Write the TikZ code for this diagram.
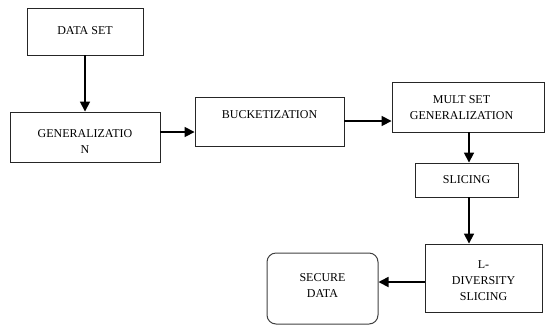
\documentclass[tikz,border=0pt]{standalone}
\usepackage{fontspec}
\setmainfont{Liberation Serif}
\usetikzlibrary{arrows.meta}
\begin{document}
\begin{tikzpicture}[x=1pt,y=-1pt,
  boxed/.style={draw=black!85, line width=0.9pt, inner sep=0pt},
  txt/.style={font=\fontsize{12}{16}\selectfont, align=center, inner sep=0pt, text=black},
  arr/.style={line width=1.7pt, -{Triangle[length=10pt,width=10pt]}}]
\useasboundingbox (0,0) rectangle (545,325);
% boxes
\node[boxed, minimum width=116pt, minimum height=47pt] (ds) at (85,31.5) {};
\node[boxed, minimum width=150pt, minimum height=50pt] (gen) at (85,137) {};
\node[boxed, minimum width=149pt, minimum height=49pt] (buck) at (269.5,121.5) {};
\node[boxed, minimum width=152pt, minimum height=50pt] (mult) at (468,107) {};
\node[boxed, minimum width=103pt, minimum height=34pt] (slice) at (466.5,180) {};
\node[boxed, minimum width=117pt, minimum height=68pt] (ldiv) at (483.5,278) {};
\node[draw=black!75, line width=1pt, rounded corners=9pt, inner sep=0pt,
      minimum width=111pt, minimum height=71pt] (sec) at (322.5,288.5) {};
% texts
\node[txt] (tds) at (85,31) {DATA SET};
\node[txt] (tgen) at (85,141.5) {GENERALIZATIO\\N};
\node[txt] (tbuck) at (269.5,115) {BUCKETIZATION};
\node[txt] (tmult) at (461.5,108) {MULT SET\\GENERALIZATION};
\node[txt] (tslice) at (466.5,180) {SLICING};
\node[txt] (tldiv) at (483.5,281) {L-\\DIVERSITY\\SLICING};
\node[txt] (tsec) at (322.5,286) {SECURE\\DATA};
% arrows
\draw[arr] (ds.south) -- (gen.north);
\draw[arr] (gen.east |- 0,132) -- (buck.west |- 0,132);
\draw[arr] (buck.east |- 0,121) -- (mult.west |- 0,121);
\draw[arr] (mult.south -| 469,0) -- (slice.north -| 469,0);
\draw[arr] (slice.south -| 469,0) -- (ldiv.north -| 469,0);
\draw[arr] (ldiv.west |- 0,282) -- (sec.east |- 0,282);
\end{tikzpicture}
\end{document}
